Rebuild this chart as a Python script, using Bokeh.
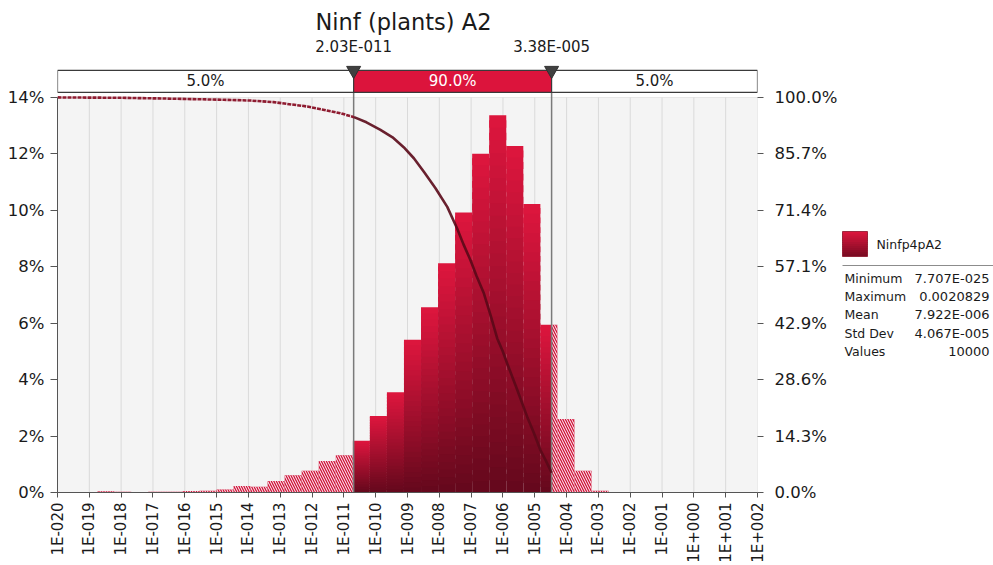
import math
import numpy as np
from bokeh.plotting import figure
from bokeh.layouts import row
from bokeh.models import (Range1d, LinearAxis, FixedTicker, PrintfTickFormatter,
                          CustomJSTickFormatter, BoxAnnotation)
from bokeh.core.properties import value
from bokeh.embed import file_html
from bokeh.resources import INLINE

# ---------------- data ----------------
chart_title = "Ninf (plants) A2"
series_name = "Ninfp4pA2"
stat_names = ["Minimum", "Maximum", "Mean", "Std Dev", "Values"]
stat_values = ["7.707E-025", "0.0020829", "7.922E-006", "4.067E-005", "10000"]
data_min = 7.707e-25
data_max = 0.0020829
n_bins = 40
bin_pct = [0.01, 0.0, 0.0, 0.01, 0.01, 0.01, 0.02, 0.02,
           0.02, 0.02, 0.04, 0.03, 0.02, 0.03, 0.03, 0.05, 0.06,
           0.11, 0.23, 0.20, 0.41, 0.61, 0.77, 1.12, 1.32,
           1.83, 2.71, 3.55, 5.41, 6.56, 8.12, 9.92, 12.00, 13.37,
           12.28, 10.22, 5.94, 2.60, 0.77, 0.06]
cut_values = [2.03e-11, 3.38e-5]
cut_labels = ["2.03E-011", "3.38E-005"]
region_labels = ["5.0%", "90.0%", "5.0%"]
x_tick_exps = list(range(-20, 3))
x_tick_labels = ["1E-020", "1E-019", "1E-018", "1E-017", "1E-016", "1E-015",
                 "1E-014", "1E-013", "1E-012", "1E-011", "1E-010", "1E-009",
                 "1E-008", "1E-007", "1E-006", "1E-005", "1E-004", "1E-003",
                 "1E-002", "1E-001", "1E+000", "1E+001", "1E+002"]
left_ticks = [0, 2, 4, 6, 8, 10, 12, 14]
right_ticks = [0, 100 / 7, 200 / 7, 300 / 7, 400 / 7, 500 / 7, 600 / 7, 100]
# descending cumulative curve: log10(x) and percent
cum_log10x = [-20.0, -18.0, -16.55, -14.77, -13.93, -13.21, -12.15, -11.11, -10.68,
              -10.29, -9.85, -9.47, -9.12, -8.80, -8.48, -8.12, -7.75, -7.44, -7.24,
              -7.02, -6.83, -6.60, -6.39, -6.18, -6.01, -5.87, -5.57, -5.24, -5.04,
              -4.82, -4.66, -4.471]
cum_pct = [100.0, 99.9, 99.7, 99.4, 99.2, 98.8, 97.7, 96.0, 95.0,
           93.7, 91.8, 89.9, 87.4, 84.6, 81.1, 77.0, 72.3, 66.8, 62.8,
           58.8, 54.8, 50.4, 44.9, 39.0, 35.8, 32.7, 26.4, 19.2, 15.3,
           10.7, 8.2, 5.0]

# ---------------- layout constants ----------------
FONT = "DejaVu Sans"
TXT = "#1a1a1a"
PX_PER_PCT = 395.5 / 14.0
FRAME_BOTTOM = 492.5
Y_END = FRAME_BOTTOM / PX_PER_PCT

def ypos(px):
    return (FRAME_BOTTOM - px) / PX_PER_PCT

BOX_B = ypos(92)
BOX_T = ypos(70)
TRI_Y = ypos(70)
CUTLBL_Y = ypos(47)
TITLE_Y = ypos(22)
BRIGHT = np.array([222, 22, 62])
DARK = np.array([100, 8, 28])
NS = 30

def mix(t):
    c = DARK + (BRIGHT - DARK) * t
    return "#%02x%02x%02x" % tuple(int(round(v)) for v in c)

MAIN_W = 841
MAIN_H = 565
p = figure(width=MAIN_W, height=MAIN_H, x_axis_type="log",
           x_range=Range1d(10.0**x_tick_exps[0], 10.0**x_tick_exps[-1]),
           y_range=Range1d(0, Y_END),
           output_backend="svg", toolbar_location=None,
           min_border_left=57, min_border_right=MAIN_W - 757, min_border_top=0,
           min_border_bottom=MAIN_H - 492, outline_line_color=None,
           background_fill_color="white", border_fill_color="white")

# plot background
p.add_layout(BoxAnnotation(bottom=0, top=left_ticks[-1], fill_color="#f4f4f4",
                           fill_alpha=1, line_color=None, level="underlay"))
p.xgrid.visible = False
p.ygrid.ticker = FixedTicker(ticks=left_ticks)
p.ygrid.grid_line_color = "#dadada"
xt = [10.0**e for e in x_tick_exps]
p.segment(x0=xt, y0=0, x1=xt, y1=left_ticks[-1], line_color="#dadada", line_width=1)

# histogram
edges = np.logspace(np.log10(data_min), np.log10(data_max), n_bins + 1)
c1, c2 = cut_values
hl, hr, ht = [], [], []
sl_, sr_, sb_, st_, sc_ = [], [], [], [], []
for l, r, v in zip(edges[:-1], edges[1:], bin_pct):
    if v <= 0:
        continue
    if l < c1:
        hl.append(l); hr.append(min(r, c1)); ht.append(v)
    if r > c2:
        hl.append(max(l, c2)); hr.append(r); ht.append(v)
    a, b = max(l, c1), min(r, c2)
    if b > a:
        for i in range(NS):
            sl_.append(a); sr_.append(b)
            sb_.append(v * i / NS)
            st_.append(min(v, v * (i + 1.6) / NS))
            sc_.append(mix((i + 0.5) / NS))
p.quad(left=hl, right=hr, bottom=0, top=ht, fill_color="#cf1239", line_color=None,
       hatch_pattern="\\", hatch_color="white", hatch_scale=5, hatch_weight=1.0)
p.quad(left=sl_, right=sr_, bottom=sb_, top=st_, fill_color=sc_, line_color=None)

# cut lines
p.segment(x0=cut_values, y0=0, x1=cut_values, y1=BOX_B, line_color="#7a7a7a", line_width=1.5)

# cumulative curve (descending)
cx = 10.0 ** np.array(cum_log10x)
cy = np.array(cum_pct)
p.extra_y_ranges = {"cum": Range1d(0, Y_END * 100 / 14)}
tail = cx <= c1 * 1.05
mid = cx >= c1 * 0.95
p.line(cx[tail], cy[tail], y_range_name="cum", line_color="#8e1b30", line_width=2.6,
       line_dash="4 1", line_join="round")
p.line(cx[mid], cy[mid], y_range_name="cum", line_color="#5a0918", line_width=2.6,
       line_alpha=0.9, line_join="round")

# top percentage bar
x0, x1 = 10.0**x_tick_exps[0], 10.0**x_tick_exps[-1]
bl = [x0, c1, c2]; br = [c1, c2, x1]
p.quad(left=bl, right=br, bottom=BOX_B, top=BOX_T, fill_color=["white", "#dc143c", "white"],
       line_color="#3a3a3a", line_width=1.2)
centers = [10 ** ((math.log10(a) + math.log10(b)) / 2) for a, b in zip(bl, br)]
p.text(x=centers, y=[(BOX_B + BOX_T) / 2] * 3, text=region_labels,
       text_color=[TXT, "white", TXT], text_font=value(FONT), text_font_size="15px",
       text_align="center", text_baseline="middle")
p.scatter(x=cut_values, y=[TRI_Y] * 2, marker="inverted_triangle", size=14,
          fill_color="#404040", line_color="#303030")
p.text(x=cut_values, y=[CUTLBL_Y] * 2, text=cut_labels, text_color=TXT,
       text_font=value(FONT), text_font_size="15px", text_align="center",
       text_baseline="middle")
p.text(x=[10 ** ((x_tick_exps[0] + x_tick_exps[-1]) / 2)], y=[TITLE_Y], text=[chart_title],
       text_color=TXT, text_font=value(FONT), text_font_size="22.5px",
       text_align="center", text_baseline="middle", x_offset=-4)

# axes
ax = p.xaxis[0]
ax.ticker = FixedTicker(ticks=xt)
ax.formatter = CustomJSTickFormatter(args=dict(labels=x_tick_labels, exps=x_tick_exps), code="""
    const e = Math.round(Math.log10(tick));
    const i = exps.indexOf(e);
    return i >= 0 ? labels[i] : "";
""")
ax.major_label_orientation = math.pi / 2
ax.minor_tick_line_color = None
ax.major_tick_out = 5
ax.major_tick_in = 0
ax.major_label_standoff = 5
ax.axis_line_color = "#555555"
ax.major_tick_line_color = "#555555"
ax.major_label_text_font_size = "15px"

ay = p.yaxis[0]
ay.ticker = FixedTicker(ticks=left_ticks)
ay.formatter = PrintfTickFormatter(format="%d%%")
ay.bounds = (0, left_ticks[-1])
ay.minor_tick_line_color = None
ay.major_tick_out = 7
ay.major_tick_in = 0
ay.major_label_standoff = 6
ay.axis_line_color = "#555555"
ay.major_tick_line_color = "#555555"

ar = LinearAxis(y_range_name="cum", ticker=FixedTicker(ticks=right_ticks),
                formatter=PrintfTickFormatter(format="%.1f%%"), bounds=(0, 100))
ar.axis_line_color = None
ar.minor_tick_line_color = None
ar.major_tick_out = 6
ar.major_tick_in = 0
ar.major_label_standoff = 11
ar.major_tick_line_color = "#555555"
p.add_layout(ar, "right")

for a in (ay, ar):
    a.major_label_text_font_size = "16.5px"
for a in (ax, ay, ar):
    a.major_label_text_font = FONT
    a.major_label_text_color = TXT

# ---------------- legend panel ----------------
# (its frame is aligned with the main frame by the row layout: rows 0..492 px)
LW = 993 - MAIN_W
LH = 565
FH = 492
OX = MAIN_W  # absolute x of the legend panel's left edge
lg = figure(width=LW, height=LH, x_range=Range1d(0, LW), y_range=Range1d(FH, 0),
            output_backend="svg", toolbar_location=None, min_border=0,
            min_border_bottom=LH - FH,
            x_axis_location=None, y_axis_location=None, outline_line_color=None,
            background_fill_color="white", border_fill_color="white")
lg.grid.visible = False
SW = 12
lg.quad(left=[842 - OX] * SW, right=[867 - OX] * SW,
        top=[231 + 25 * i / SW for i in range(SW)],
        bottom=[231 + 25 * (i + 1.5) / SW if i < SW - 1 else 256 for i in range(SW)],
        fill_color=[mix(1 - (i + 0.5) / SW * 0.85) for i in range(SW)], line_color=None)
lg.quad(left=[842 - OX], right=[867 - OX], top=[231], bottom=[256], fill_color=None,
        line_color="#8a1027", line_width=0.8)
lg.text(x=[876 - OX], y=[244], text=[series_name], text_color=TXT, text_font=value(FONT),
        text_font_size="12.5px", text_baseline="middle")
lg.segment(x0=[842 - OX], y0=[265], x1=[LW], y1=[265], line_color="#8c8c8c", line_width=1)
ys = [278 + 18.2 * i for i in range(len(stat_names))]
lg.text(x=[844 - OX] * len(ys), y=ys, text=stat_names, text_color=TXT, text_font=value(FONT),
        text_font_size="12.5px", text_baseline="middle")
lg.text(x=[989 - OX] * len(ys), y=ys, text=stat_values, text_color=TXT, text_font=value(FONT),
        text_font_size="13px", text_baseline="middle", text_align="right")

layout = row(p, lg)
open("out.html", "w").write(file_html(layout, INLINE))
